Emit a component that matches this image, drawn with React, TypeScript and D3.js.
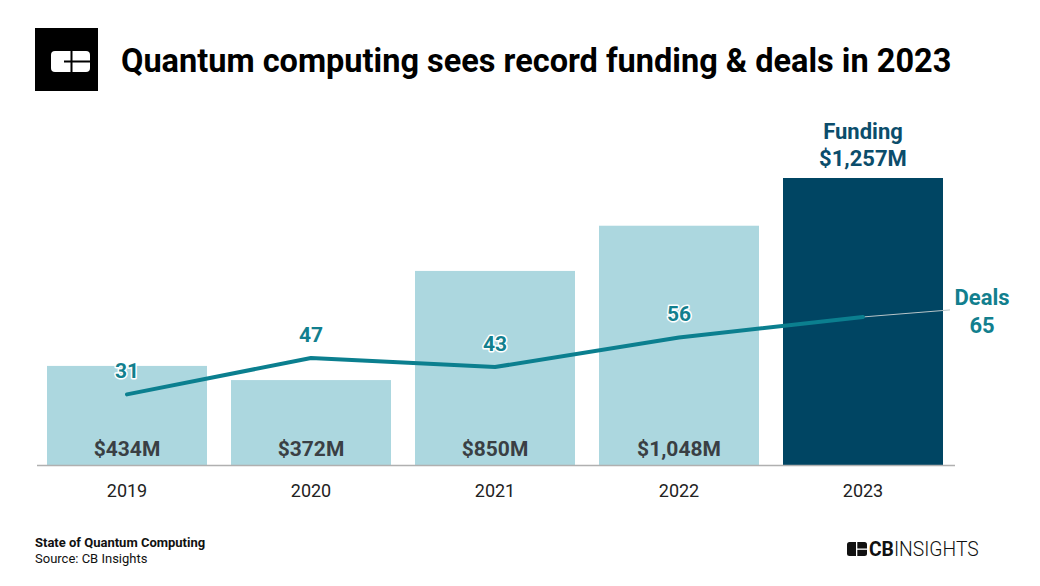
import { useEffect, useRef } from "react";
import * as d3 from "d3";

const years = ["2019", "2020", "2021", "2022", "2023"];
const funding = [434, 372, 850, 1048, 1257];
const fundingLabels = ["$434M", "$372M", "$850M", "$1,048M", "$1,257M"];
const deals = [31, 47, 43, 56, 65];

const W = 1040;
const H = 586;
const FONT = "Roboto, 'Noto Sans', sans-serif";

function App() {
  const ref = useRef<SVGSVGElement>(null);

  useEffect(() => {
    const svg = d3.select(ref.current);
    svg.selectAll("*").remove();

    const x = d3.scaleBand<string>()
      .domain(years)
      .range([35, 955])
      .paddingInner(24 / 184)
      .paddingOuter(12 / 184);

    const y = d3.scaleLinear().domain([0, 1257]).range([465, 178]);
    const yDeals = d3.scaleLinear().domain([0, 126]).range([465, 178]);

    svg.append("rect").attr("width", W).attr("height", H).attr("fill", "#fff");

    // logo
    const logo = svg.append("g");
    logo.append("rect").attr("x", 35).attr("y", 28).attr("width", 63).attr("height", 63).attr("fill", "#000");
    logo.append("rect").attr("x", 51).attr("y", 51).attr("width", 39).attr("height", 21).attr("rx", 4).attr("fill", "#fff");
    logo.append("rect").attr("x", 70.5).attr("y", 51).attr("width", 2).attr("height", 21).attr("fill", "#000");
    logo.append("rect").attr("x", 64).attr("y", 60.5).attr("width", 27).attr("height", 2).attr("fill", "#000");

    svg.append("text")
      .attr("x", 121).attr("y", 72)
      .attr("font-family", FONT).attr("font-weight", 700).attr("font-size", 32.5)
      .attr("fill", "#000")
      .text("Quantum computing sees record funding & deals in 2023");

    // bars
    svg.selectAll(".bar")
      .data(years)
      .join("rect")
      .attr("class", "bar")
      .attr("x", d => x(d)!)
      .attr("width", x.bandwidth())
      .attr("y", (d, i) => y(funding[i]))
      .attr("height", (d, i) => y(0) - y(funding[i]))
      .attr("fill", (d, i) => (i === years.length - 1 ? "#004563" : "#acd7df"));

    // baseline
    svg.append("line")
      .attr("x1", 37).attr("x2", 955)
      .attr("y1", y(0) + 0.5).attr("y2", y(0) + 0.5)
      .attr("stroke", "#b0b0b0").attr("stroke-width", 1.5);

    // bar value labels (except last)
    svg.selectAll(".fl")
      .data(years.slice(0, 4))
      .join("text")
      .attr("class", "fl")
      .attr("x", d => x(d)! + x.bandwidth() / 2)
      .attr("y", 456)
      .attr("text-anchor", "middle")
      .attr("font-family", FONT).attr("font-weight", 700).attr("font-size", 21)
      .attr("fill", "#3a3f44")
      .text((d, i) => fundingLabels[i]);

    const cx = x("2023")! + x.bandwidth() / 2;
    svg.append("text")
      .attr("x", cx).attr("y", 139)
      .attr("text-anchor", "middle")
      .attr("font-family", FONT).attr("font-weight", 700).attr("font-size", 22)
      .attr("fill", "#0b4d6b")
      .text("Funding");
    svg.append("text")
      .attr("x", cx).attr("y", 166)
      .attr("text-anchor", "middle")
      .attr("font-family", FONT).attr("font-weight", 700).attr("font-size", 22)
      .attr("fill", "#0b4d6b")
      .text(fundingLabels[4]);

    // x labels
    svg.selectAll(".xl")
      .data(years)
      .join("text")
      .attr("class", "xl")
      .attr("x", d => x(d)! + x.bandwidth() / 2)
      .attr("y", 497)
      .attr("text-anchor", "middle")
      .attr("font-family", FONT).attr("font-size", 18)
      .attr("fill", "#222")
      .text(d => d);

    // deals line
    const pts: [number, number][] = years.map((d, i) => [x(d)! + x.bandwidth() / 2, yDeals(deals[i])]);
    const last = pts[pts.length - 1];
    svg.append("line")
      .attr("x1", last[0]).attr("y1", last[1])
      .attr("x2", 950).attr("y2", yDeals(deals[4]) - 7)
      .attr("stroke", "#b8c4c8").attr("stroke-width", 1);

    svg.append("path")
      .attr("d", d3.line()(pts))
      .attr("fill", "none")
      .attr("stroke", "#0b7f8f")
      .attr("stroke-width", 4)
      .attr("stroke-linejoin", "round")
      .attr("stroke-linecap", "round");

    svg.selectAll(".dl")
      .data(years.slice(0, 4))
      .join("text")
      .attr("class", "dl")
      .attr("x", d => x(d)! + x.bandwidth() / 2)
      .attr("y", (d, i) => yDeals(deals[i]) - 16)
      .attr("text-anchor", "middle")
      .attr("font-family", FONT).attr("font-weight", 700).attr("font-size", 21)
      .attr("fill", "#127f8e")
      .attr("stroke", "#fff").attr("stroke-width", 3).attr("paint-order", "stroke")
      .attr("stroke-linejoin", "round")
      .text((d, i) => String(deals[i]));

    svg.append("text")
      .attr("x", 982).attr("y", 305)
      .attr("text-anchor", "middle")
      .attr("font-family", FONT).attr("font-weight", 700).attr("font-size", 22)
      .attr("fill", "#127f8e")
      .text("Deals");
    svg.append("text")
      .attr("x", 982).attr("y", 333)
      .attr("text-anchor", "middle")
      .attr("font-family", FONT).attr("font-weight", 700).attr("font-size", 22)
      .attr("fill", "#127f8e")
      .text(String(deals[4]));

    // footer
    svg.append("text")
      .attr("x", 35).attr("y", 547)
      .attr("font-family", FONT).attr("font-weight", 700).attr("font-size", 13)
      .attr("fill", "#111")
      .text("State of Quantum Computing");
    svg.append("text")
      .attr("x", 35).attr("y", 563)
      .attr("font-family", FONT).attr("font-size", 13)
      .attr("fill", "#111")
      .text("Source: CB Insights");

    const fl = svg.append("g");
    fl.append("rect").attr("x", 847).attr("y", 542).attr("width", 20).attr("height", 14).attr("rx", 2.5).attr("fill", "#111");
    fl.append("rect").attr("x", 856).attr("y", 542).attr("width", 1.3).attr("height", 14).attr("fill", "#fff");
    fl.append("rect").attr("x", 856).attr("y", 548.5).attr("width", 11).attr("height", 1.3).attr("fill", "#fff");
    const ft = fl.append("text")
      .attr("x", 869).attr("y", 556)
      .attr("font-family", FONT).attr("font-size", 19.3)
      .attr("fill", "#111");
    ft.append("tspan").attr("font-weight", 700).text("CB");
    ft.append("tspan").attr("font-weight", 300).text("INSIGHTS");
  }, []);

  return (
    <svg
      ref={ref}
      width={W}
      height={H}
      style={{ position: "absolute", left: 0, top: 0 }}
    />
  );
}

export default App;
